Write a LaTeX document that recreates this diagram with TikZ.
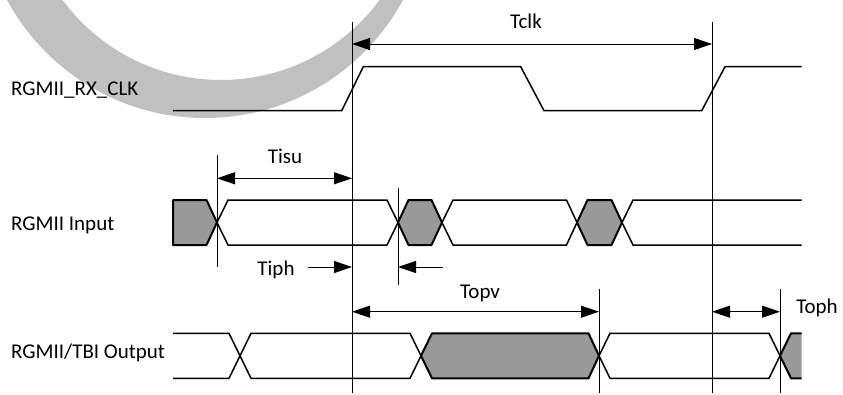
\documentclass[tikz,border=0pt]{standalone}
\usepackage{fontspec}
\setmainfont{Carlito}
\usetikzlibrary{arrows.meta}
\definecolor{wmgray}{RGB}{192,192,192}
\definecolor{datagray}{RGB}{153,153,153}
\begin{document}
\begin{tikzpicture}[x=1pt,y=-1pt,
  sig/.style={line width=1.5pt, line join=miter},
  dgray/.style={fill=datagray, draw=black, line width=2pt, line join=round},
  tline/.style={line width=0.9pt},
  dim/.style={line width=0.9pt, {Triangle[length=18pt,width=12pt]}-{Triangle[length=18pt,width=12pt]}},
  rarr/.style={line width=0.9pt, -{Triangle[length=18pt,width=12pt]}},
  lbl/.style={font=\fontsize{21}{25}\selectfont, inner sep=0pt, anchor=base}
]
\useasboundingbox (0,0) rectangle (843,394);
% watermark swoosh
\begin{scope}
  \clip (0,0) rectangle (843,394);
  \fill[wmgray, even odd rule] (205,-107) circle[radius=225pt] (221,-117) circle[radius=197pt];
\end{scope}

% signal names
\node[lbl, anchor=base west] (lclk) at (11,95) {RGMII\_RX\_CLK};
\node[lbl, anchor=base west] (lin) at (11,230) {RGMII Input};
\node[lbl, anchor=base west] (lout) at (11,358) {RGMII/TBI Output};

% clock
\draw[sig] (173,110.7) -- (341.7,110.7) -- (363.3,66.7) -- (520.7,66.7) -- (544,110.7) -- (701.7,110.7) -- (725,66.7) -- (801.7,66.7);

% RGMII input
\filldraw[dgray] (173,200) -- (206.5,200) -- (217,222.5) -- (206.5,245) -- (173,245) -- cycle;
\draw[sig] (217,222.5) -- (228,200) -- (387,200) -- (398,222.5) -- (387,245) -- (228,245) -- cycle;
\filldraw[dgray] (398,222.5) -- (408.5,200) -- (431.5,200) -- (442,222.5) -- (431.5,245) -- (408.5,245) -- cycle;
\draw[sig] (442,222.5) -- (453,200) -- (566.5,200) -- (577,222.5) -- (566.5,245) -- (453,245) -- cycle;
\filldraw[dgray] (577,222.5) -- (587.5,200) -- (611.5,200) -- (622,222.5) -- (611.5,245) -- (587.5,245) -- cycle;
\draw[sig] (801.7,200) -- (633,200) -- (622,222.5) -- (633,245) -- (801.7,245);

% RGMII/TBI output
\draw[sig] (173,333.3) -- (229,333.3) -- (240,355.8) -- (229,378.3) -- (173,378.3);
\draw[sig] (240,355.8) -- (251,333.3) -- (410,333.3) -- (421,355.8) -- (410,378.3) -- (251,378.3) -- cycle;
\filldraw[dgray] (421,355.8) -- (432,333.3) -- (588.5,333.3) -- (599,355.8) -- (588.5,378.3) -- (432,378.3) -- cycle;
\draw[sig] (599,355.8) -- (610,333.3) -- (769,333.3) -- (780,355.8) -- (769,378.3) -- (610,378.3) -- cycle;
\fill[datagray] (801.7,333.3) -- (791,333.3) -- (780,355.8) -- (791,378.3) -- (801.7,378.3) -- cycle;
\draw[dgray, fill=none] (801.7,333.3) -- (791,333.3) -- (780,355.8) -- (791,378.3) -- (801.7,378.3);

% timing reference lines
\coordinate (c1t) at (352,22);   \coordinate (c1b) at (352,393);
\coordinate (c2t) at (712,22);   \coordinate (c2b) at (712,393);
\coordinate (s1t) at (217,155);  \coordinate (s1b) at (217,267);
\coordinate (h1t) at (398,188);  \coordinate (h1b) at (398,285);
\coordinate (o1t) at (599,289);  \coordinate (o1b) at (599,393);
\coordinate (o2t) at (780,289);  \coordinate (o2b) at (780,393);
\foreach \a/\b in {c1t/c1b, c2t/c2b, s1t/s1b, h1t/h1b, o1t/o1b, o2t/o2b}
  \draw[tline] (\a) -- (\b);

% dimension arrows
\coordinate (tclkA) at (352,44);    \coordinate (tclkB) at (712,44);
\coordinate (tisuA) at (217,178.3); \coordinate (tisuB) at (352,178.3);
\coordinate (topvA) at (352,311.7); \coordinate (topvB) at (599,311.7);
\coordinate (tophA) at (712,311.7); \coordinate (tophB) at (780,311.7);
\coordinate (tiphA) at (308,267);   \coordinate (tiphB) at (352,267);
\coordinate (tiphC) at (443,267);   \coordinate (tiphD) at (398,267);
\draw[dim] (tclkA) -- (tclkB);
\draw[dim] (tisuA) -- (tisuB);
\draw[dim] (topvA) -- (topvB);
\draw[dim] (tophA) -- (tophB);
\draw[rarr] (tiphA) -- (tiphB);
\draw[rarr] (tiphC) -- (tiphD);

% timing labels
\node[lbl] (tclk) at (526,28) {Tclk};
\node[lbl] (tisu) at (285,163) {Tisu};
\node[lbl] (tiph) at (276,275.5) {Tiph};
\node[lbl] (topv) at (480,298.3) {Topv};
\node[lbl] (toph) at (817,313.3) {Toph};
\end{tikzpicture}
\end{document}
